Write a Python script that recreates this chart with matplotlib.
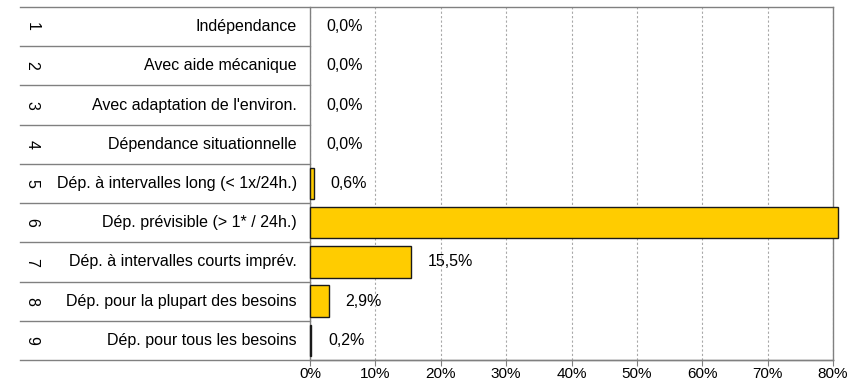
import matplotlib.pyplot as plt
from matplotlib.transforms import blended_transform_factory
from matplotlib.ticker import FuncFormatter

plt.rcParams['font.family'] = ['Liberation Sans', 'DejaVu Sans']

# donnees
numeros = ['1', '2', '3', '4', '5', '6', '7', '8', '9']
categories = ['Indépendance', 'Avec aide mécanique', "Avec adaptation de l'environ.",
              'Dépendance situationnelle', 'Dép. à intervalles long (< 1x/24h.)',
              'Dép. prévisible (> 1* / 24h.)', 'Dép. à intervalles courts imprév.',
              'Dép. pour la plupart des besoins', 'Dép. pour tous les besoins']
valeurs = [0.0, 0.0, 0.0, 0.0, 0.6, 80.8, 15.5, 2.9, 0.2]
x_ticks = [0, 10, 20, 30, 40, 50, 60, 70, 80]

W, H = 857, 382
fig = plt.figure(figsize=(W / 100, H / 100), dpi=100)
ax = fig.add_axes([310 / W, (H - 360) / H, (833 - 310) / W, (360 - 7) / H])

pos = list(range(1, len(valeurs) + 1))
bars = ax.barh(pos, valeurs, height=0.8, color='#FFCC00', edgecolor='#1a1a1a',
               linewidth=1, zorder=3)
for b, v in zip(bars, valeurs):
    b.set_clip_on(False)
    if v == 0:
        b.set_linewidth(0)

ax.set_xlim(0, 80)
ax.set_ylim(9.5, 0.5)
ax.set_xticks(x_ticks)
ax.xaxis.set_major_formatter(FuncFormatter(lambda v, p: f'{v:.0f}%'))
ax.set_yticks([])
ax.tick_params(axis='x', length=4, color='#808080', labelsize=11, pad=1)
ax.grid(axis='x', linestyle=(0, (2, 2)), color='#a8a8a8', linewidth=0.8, zorder=0)

for s in ax.spines.values():
    s.set_color('#808080')
    s.set_linewidth(1)
ax.spines['top'].set_visible(False)

# etiquettes des valeurs
for p, v in zip(pos, valeurs):
    if v <= 80:
        txt = f'{v:.1f}%'.replace('.', ',')
        ax.annotate(txt, (v, p), xytext=(12, 0), textcoords='offset points',
                    va='center', ha='left', fontsize=11.5)

# tableau des categories a gauche
tr = blended_transform_factory(fig.transFigure, ax.transData)
for p, n, c in zip(pos, numeros, categories):
    ax.text(32 / W, p, n, transform=tr, rotation=-90, ha='center', va='center',
            fontsize=11.5, clip_on=False)
    ax.text(297 / W, p, c, transform=tr, ha='right', va='center',
            fontsize=11.5, clip_on=False)

for k in range(len(pos) + 1):
    y = k + 0.5
    x_end = 833 / W if k in (0, len(pos)) else 310 / W
    ax.plot([20 / W, x_end], [y, y], transform=tr, color='#808080',
            linewidth=1, clip_on=False, zorder=4)

fig.savefig('out.png', dpi=100)
